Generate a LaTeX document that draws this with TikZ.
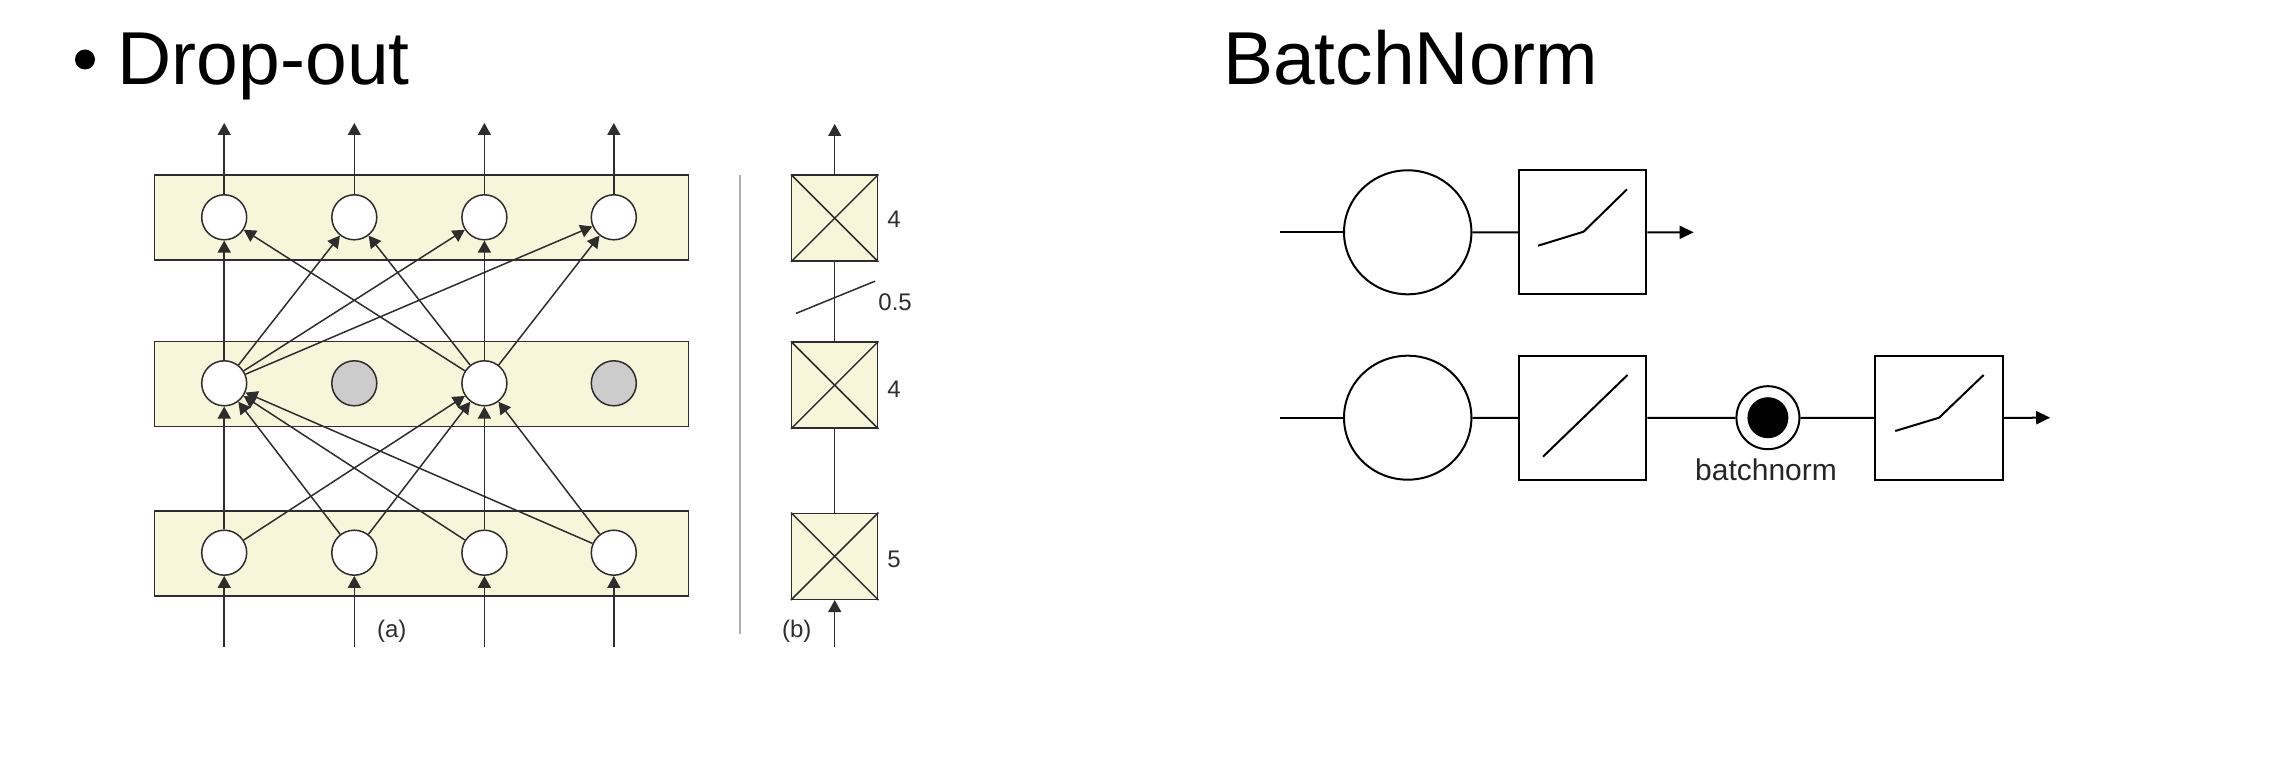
\documentclass[tikz,border=0pt]{standalone}
\usepackage{fontspec}
\setmainfont{Liberation Sans}
\usetikzlibrary{arrows.meta,shapes.geometric}
\definecolor{pale}{RGB}{248,246,218}
\definecolor{ink}{RGB}{45,45,45}
\definecolor{dropgrey}{RGB}{204,204,204}
\definecolor{divgrey}{RGB}{175,175,175}
\begin{document}
\begin{tikzpicture}[x=0.5pt,y=-0.5pt,
  unit/.style={circle, draw=ink, line width=0.75pt, fill=white, minimum size=22.5pt, inner sep=0pt},
  offunit/.style={unit, fill=dropgrey},
  layer/.style={rectangle, draw=ink, fill=pale, line width=0.75pt, minimum width=267pt, minimum height=42.5pt, inner sep=0pt},
  xbox/.style={rectangle, draw=ink, fill=pale, line width=0.75pt, minimum width=43pt, minimum height=43pt, inner sep=0pt},
  conn/.style={draw=ink, line width=0.75pt, -{Triangle[length=6pt,width=6.5pt]}},
  plain/.style={draw=ink, line width=0.75pt},
  small/.style={font=\fontsize{12pt}{14pt}\selectfont, text=ink, inner sep=0pt},
  title/.style={font=\fontsize{37.5pt}{40pt}\selectfont, inner sep=0pt, anchor=base west},
  bnline/.style={draw=black, line width=1pt},
  bnarrow/.style={bnline, -{Triangle[length=7pt,width=6.5pt]}},
  bnbox/.style={rectangle, draw=black, line width=1pt, minimum width=63.7pt, minimum height=62pt, inner sep=0pt},
  bnneuron/.style={ellipse, draw=black, line width=1pt, minimum width=63.7pt, minimum height=62pt, inner sep=0pt}
]
\useasboundingbox (0,0) rectangle (2294,764);

% titles
\node[circle, fill=black, minimum size=10pt, inner sep=0pt] (bullet) at (85,59.5) {};
\node[title] (t-drop) at (117.4,85) {Drop-out};
\node[title] (t-bn) at (1222.8,85) {BatchNorm};

% ---------- panel (a) ----------
\node[layer] (Ltop) at (421.5,217.5) {};
\node[layer] (Lmid) at (421.5,384.2) {};
\node[layer] (Lbot) at (421.5,553.7) {};

\foreach \i/\x in {1/224.2,2/354.3,3/484.4,4/613.8}{
  \node[unit] (t\i) at (\x,217.3) {};
  \node[unit] (b\i) at (\x,552.7) {};
  \coordinate (o\i) at (\x,123);
  \coordinate (in\i) at (\x,646.7);
}
\node[unit] (m1) at (224.2,383.3) {};
\node[offunit] (m2) at (354.3,383.3) {};
\node[unit] (m3) at (484.4,383.3) {};
\node[offunit] (m4) at (613.8,383.3) {};

\foreach \i in {1,2,3,4}{
  \draw[conn] (t\i) -- (o\i);
  \draw[conn] (in\i) -- (b\i);
  \draw[conn] (b\i) -- (m1);
  \draw[conn] (b\i) -- (m3);
  \draw[conn] (m1) -- (t\i);
  \draw[conn] (m3) -- (t\i);
}
\node[small] (lab-a) at (391.8,631.7) {(a)};

% divider
\coordinate (d1) at (740,175);
\coordinate (d2) at (740,634);
\draw[divgrey, line width=0.6pt] (d1) -- (d2);

% ---------- panel (b) ----------
\node[xbox] (X1) at (834.7,218.2) {};
\node[xbox] (X2) at (834.7,385.2) {};
\node[xbox] (X3) at (834.7,556.3) {};
\foreach \n in {X1,X2,X3}{
  \draw[plain] (\n.north west) -- (\n.south east);
  \draw[plain] (\n.south west) -- (\n.north east);
}
\coordinate (bo) at (834.7,124);
\coordinate (bi) at (834.7,646.7);
\draw[conn] (X1) -- (bo);
\draw[conn] (bi) -- (X3);
\draw[plain] (X3) -- (X2);
\draw[plain] (X2) -- (X1);
\coordinate (s1) at (796,313.4);
\coordinate (s2) at (875,281.2);
\draw[plain] (s1) -- (s2);
\node[small, anchor=west] (n4a) at (887,219.4) {4};
\node[small, anchor=west] (n05) at (878,302.2) {0.5};
\node[small, anchor=west] (n4b) at (887,388.8) {4};
\node[small, anchor=west] (n5) at (887,559) {5};
\node[small] (lab-b) at (796.7,631.7) {(b)};

% ---------- BatchNorm ----------
\coordinate (a0) at (1280,232.3);
\node[bnneuron] (n1) at (1407.7,232.3) {};
\node[bnbox] (f1) at (1582.7,232.5) {};
\coordinate (a1) at (1693.6,232.3);
\draw[bnline] (a0) -- (n1);
\draw[bnline] (n1) -- (f1);
\draw[bnarrow] (f1) -- (a1);
\draw[bnline] ([shift={(-44.7,13.2)}]f1.center) -- ([shift={(0.9,-0.8)}]f1.center) -- ([shift={(44.3,-43.2)}]f1.center);

\coordinate (c0) at (1280,417.7);
\node[bnneuron] (n2) at (1407.7,417.7) {};
\node[bnbox] (f2) at (1582.7,418) {};
\node[circle, draw=black, line width=1pt, fill=white, minimum size=31.5pt, inner sep=0pt] (bn) at (1767.9,417.7) {};
\node[circle, fill=black, minimum size=20.5pt, inner sep=0pt] (bndot) at (bn.center) {};
\node[font=\fontsize{15pt}{17pt}\selectfont, inner sep=0pt, anchor=base, text=black!85] (bnlab) at (1766,480) {batchnorm};
\node[bnbox] (f3) at (1939.1,418) {};
\coordinate (c1) at (2050.2,417.7);
\draw[bnline] (c0) -- (n2);
\draw[bnline] (n2) -- (f2);
\draw[bnline] (f2) -- (bn);
\draw[bnline] (bn) -- (f3);
\draw[bnarrow] (f3) -- (c1);
\draw[bnline] ([shift={(-39.7,38.7)}]f2.center) -- ([shift={(44.8,-43)}]f2.center);
\draw[bnline] ([shift={(-43.9,13)}]f3.center) -- ([shift={(0,-0.3)}]f3.center) -- ([shift={(44.5,-43)}]f3.center);
\end{tikzpicture}
\end{document}
